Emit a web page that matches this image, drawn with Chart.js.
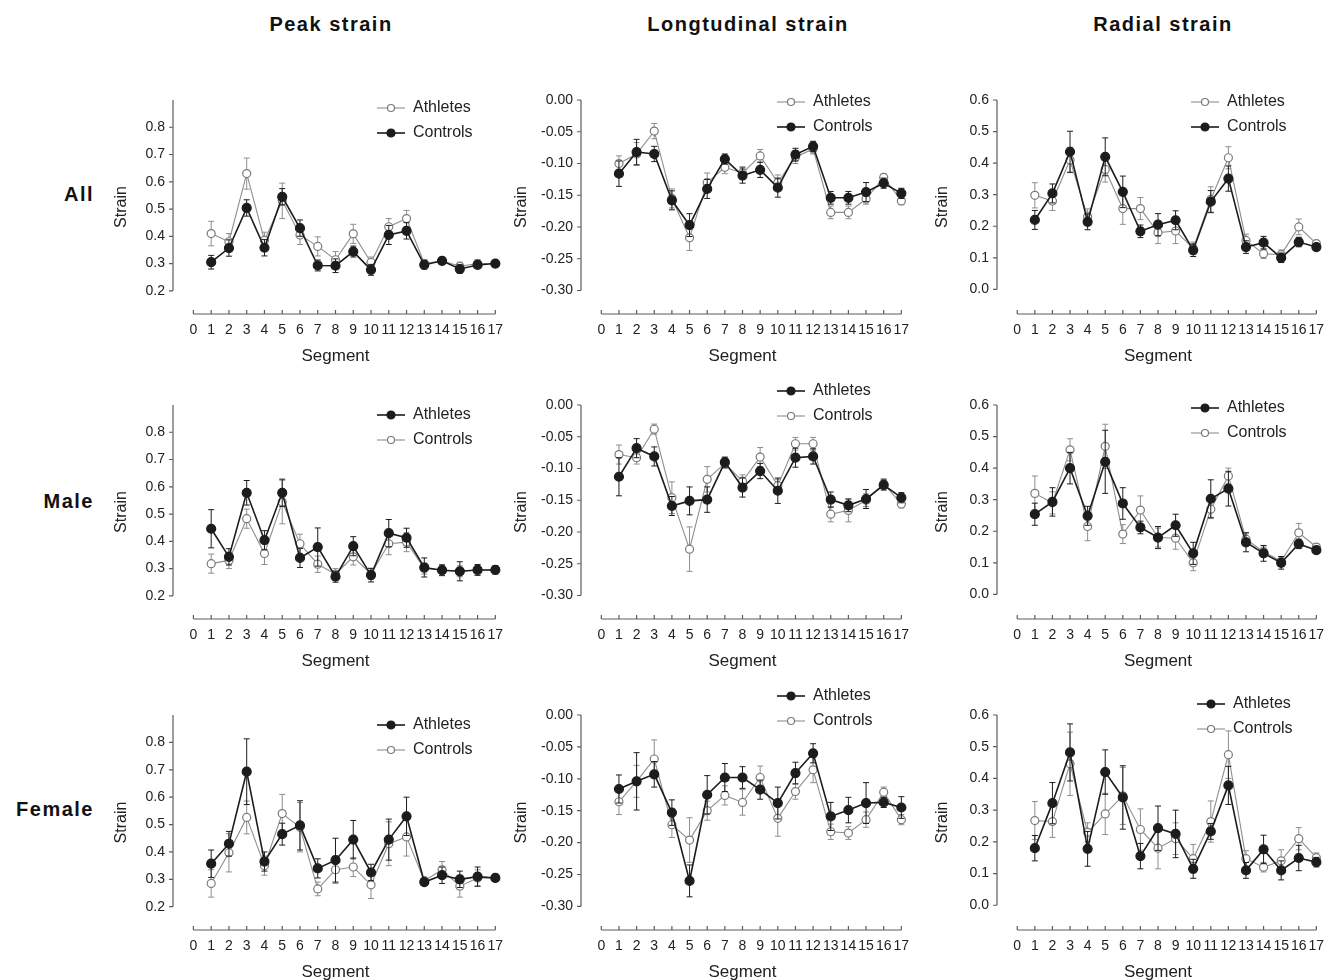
<!DOCTYPE html>
<html>
<head>
<meta charset="utf-8">
<script src="https://cdn.jsdelivr.net/npm/chart.js@4.4.0/dist/chart.umd.min.js"></script>
<style>
  body { margin: 0; background: #fff; width: 1325px; height: 980px; overflow: hidden; position: relative;
         font-family: "Liberation Sans", Arial, sans-serif; }
  .coltitle { position: absolute; top: 13px; font-weight: bold; font-size: 20px; letter-spacing: 1.5px;
              color: #111; transform: translateX(-50%); white-space: nowrap; }
  .rowlabel { position: absolute; left: 0; width: 94px; text-align: right; font-weight: bold; font-size: 20px;
              letter-spacing: 1.5px; color: #111; transform: translateY(-50%); }
  canvas.panel { position: absolute; }
</style>
</head>
<body>
<div class="coltitle" style="left:331px">Peak strain</div>
<div class="coltitle" style="left:748px">Longtudinal strain</div>
<div class="coltitle" style="left:1163px">Radial strain</div>
<div class="rowlabel" style="top:194px">All</div>
<div class="rowlabel" style="top:501px">Male</div>
<div class="rowlabel" style="top:809px">Female</div>
<script>
// Segment strain, athletes vs controls

const segments = [1, 2, 3, 4, 5, 6, 7, 8, 9, 10, 11, 12, 13, 14, 15, 16, 17];
const segmentTicks = [0, 1, 2, 3, 4, 5, 6, 7, 8, 9, 10, 11, 12, 13, 14, 15, 16, 17];
const peakTicks = [0.2, 0.3, 0.4, 0.5, 0.6, 0.7, 0.8];
const longTicks = [0, -0.05, -0.1, -0.15, -0.2, -0.25, -0.3];
const radialTicks = [0, 0.1, 0.2, 0.3, 0.4, 0.5, 0.6];

// All
const peakAllA = [0.41, 0.38, 0.63, 0.385, 0.53, 0.405, 0.363, 0.314, 0.409, 0.304, 0.435, 0.465, 0.30, 0.31, 0.29, 0.30, 0.30];
const peakAllAErr = [0.045, 0.03, 0.057, 0.03, 0.065, 0.035, 0.035, 0.03, 0.035, 0.02, 0.03, 0.03, 0.015, 0.012, 0.015, 0.015, 0.01];
const peakAllC = [0.305, 0.357, 0.504, 0.358, 0.545, 0.43, 0.293, 0.292, 0.344, 0.277, 0.405, 0.42, 0.295, 0.31, 0.28, 0.295, 0.30];
const peakAllCErr = [0.025, 0.03, 0.03, 0.03, 0.03, 0.03, 0.02, 0.025, 0.02, 0.02, 0.035, 0.03, 0.015, 0.012, 0.015, 0.012, 0.01];

const longAllA = [-0.10, -0.085, -0.049, -0.155, -0.217, -0.13, -0.106, -0.115, -0.088, -0.13, -0.09, -0.077, -0.177, -0.177, -0.156, -0.122, -0.159];
const longAllAErr = [0.012, 0.018, 0.012, 0.015, 0.02, 0.015, 0.01, 0.01, 0.01, 0.012, 0.01, 0.008, 0.01, 0.01, 0.008, 0.006, 0.006];
const longAllC = [-0.116, -0.082, -0.085, -0.158, -0.197, -0.14, -0.093, -0.119, -0.11, -0.138, -0.086, -0.073, -0.154, -0.154, -0.145, -0.131, -0.147];
const longAllCErr = [0.02, 0.02, 0.012, 0.015, 0.018, 0.015, 0.008, 0.012, 0.012, 0.015, 0.01, 0.008, 0.01, 0.01, 0.015, 0.008, 0.008];

const radAllA = [0.298, 0.28, 0.41, 0.23, 0.38, 0.256, 0.256, 0.18, 0.185, 0.13, 0.285, 0.417, 0.155, 0.113, 0.11, 0.198, 0.145];
const radAllAErr = [0.04, 0.03, 0.04, 0.025, 0.04, 0.05, 0.035, 0.035, 0.04, 0.02, 0.04, 0.035, 0.02, 0.015, 0.015, 0.025, 0.01];
const radAllC = [0.22, 0.304, 0.436, 0.214, 0.42, 0.309, 0.184, 0.205, 0.219, 0.124, 0.278, 0.351, 0.134, 0.148, 0.10, 0.15, 0.134];
const radAllCErr = [0.03, 0.03, 0.065, 0.025, 0.06, 0.05, 0.02, 0.035, 0.03, 0.02, 0.035, 0.04, 0.02, 0.02, 0.015, 0.015, 0.01];

// Male
const peakMaleA = [0.446, 0.343, 0.578, 0.404, 0.578, 0.339, 0.379, 0.27, 0.382, 0.276, 0.43, 0.413, 0.304, 0.294, 0.29, 0.295, 0.295];
const peakMaleAErr = [0.07, 0.03, 0.045, 0.035, 0.05, 0.035, 0.07, 0.02, 0.035, 0.025, 0.05, 0.035, 0.035, 0.02, 0.035, 0.02, 0.015];
const peakMaleC = [0.318, 0.33, 0.483, 0.355, 0.544, 0.391, 0.316, 0.28, 0.343, 0.28, 0.391, 0.397, 0.30, 0.295, 0.29, 0.295, 0.295];
const peakMaleCErr = [0.035, 0.03, 0.035, 0.04, 0.08, 0.035, 0.03, 0.02, 0.03, 0.02, 0.04, 0.035, 0.02, 0.015, 0.02, 0.015, 0.01];

const longMaleA = [-0.113, -0.068, -0.081, -0.159, -0.151, -0.149, -0.09, -0.13, -0.104, -0.135, -0.083, -0.081, -0.149, -0.158, -0.148, -0.126, -0.146];
const longMaleAErr = [0.03, 0.015, 0.015, 0.015, 0.022, 0.02, 0.008, 0.015, 0.012, 0.02, 0.015, 0.012, 0.012, 0.01, 0.015, 0.008, 0.008];
const longMaleC = [-0.078, -0.083, -0.038, -0.146, -0.227, -0.117, -0.092, -0.12, -0.082, -0.127, -0.061, -0.061, -0.172, -0.166, -0.15, -0.124, -0.156];
const longMaleCErr = [0.015, 0.01, 0.008, 0.025, 0.035, 0.02, 0.008, 0.01, 0.015, 0.01, 0.01, 0.01, 0.012, 0.018, 0.01, 0.008, 0.006];

const radMaleA = [0.254, 0.293, 0.40, 0.249, 0.42, 0.288, 0.212, 0.18, 0.219, 0.13, 0.303, 0.335, 0.165, 0.13, 0.10, 0.16, 0.14];
const radMaleAErr = [0.035, 0.045, 0.05, 0.03, 0.1, 0.05, 0.02, 0.035, 0.035, 0.035, 0.06, 0.055, 0.03, 0.025, 0.02, 0.015, 0.01];
const radMaleC = [0.32, 0.29, 0.458, 0.215, 0.469, 0.191, 0.267, 0.18, 0.178, 0.10, 0.27, 0.375, 0.175, 0.135, 0.105, 0.195, 0.15];
const radMaleCErr = [0.055, 0.035, 0.035, 0.045, 0.07, 0.03, 0.045, 0.03, 0.035, 0.025, 0.03, 0.025, 0.02, 0.015, 0.015, 0.03, 0.01];

// Female
const peakFemA = [0.357, 0.43, 0.693, 0.365, 0.465, 0.497, 0.34, 0.37, 0.445, 0.325, 0.445, 0.53, 0.29, 0.315, 0.30, 0.31, 0.305];
const peakFemAErr = [0.05, 0.045, 0.12, 0.035, 0.04, 0.09, 0.035, 0.08, 0.07, 0.03, 0.075, 0.07, 0.01, 0.03, 0.03, 0.035, 0.01];
const peakFemC = [0.285, 0.397, 0.526, 0.35, 0.54, 0.49, 0.265, 0.335, 0.345, 0.28, 0.43, 0.455, 0.295, 0.335, 0.275, 0.305, 0.305];
const peakFemCErr = [0.05, 0.07, 0.06, 0.035, 0.07, 0.09, 0.025, 0.05, 0.035, 0.05, 0.08, 0.07, 0.01, 0.03, 0.04, 0.03, 0.01];

const longFemA = [-0.116, -0.104, -0.093, -0.153, -0.26, -0.125, -0.098, -0.098, -0.117, -0.138, -0.091, -0.06, -0.159, -0.149, -0.138, -0.137, -0.145];
const longFemAErr = [0.022, 0.045, 0.02, 0.02, 0.025, 0.03, 0.022, 0.017, 0.015, 0.025, 0.017, 0.015, 0.022, 0.02, 0.032, 0.008, 0.017];
const longFemC = [-0.136, -0.104, -0.069, -0.172, -0.196, -0.15, -0.126, -0.137, -0.098, -0.162, -0.12, -0.086, -0.183, -0.185, -0.164, -0.121, -0.164];
const longFemCErr = [0.02, 0.025, 0.03, 0.02, 0.035, 0.015, 0.015, 0.02, 0.018, 0.028, 0.012, 0.02, 0.012, 0.01, 0.012, 0.008, 0.008];

const radFemA = [0.18, 0.322, 0.482, 0.178, 0.42, 0.34, 0.155, 0.243, 0.225, 0.115, 0.233, 0.378, 0.11, 0.176, 0.11, 0.149, 0.136];
const radFemAErr = [0.04, 0.065, 0.09, 0.055, 0.07, 0.1, 0.04, 0.07, 0.075, 0.03, 0.025, 0.06, 0.025, 0.045, 0.03, 0.04, 0.015];
const radFemC = [0.267, 0.264, 0.446, 0.23, 0.288, 0.345, 0.239, 0.18, 0.21, 0.147, 0.264, 0.475, 0.147, 0.12, 0.14, 0.21, 0.15];
const radFemCErr = [0.06, 0.05, 0.1, 0.03, 0.065, 0.09, 0.065, 0.065, 0.05, 0.045, 0.065, 0.075, 0.025, 0.015, 0.035, 0.035, 0.015];

const FONT = "'Liberation Sans', Arial, sans-serif";
const TEXT = "#222";
const AXIS = "#5c5c5c";

const filledStyle = { line: "#1c1c1c", width: 1.6, radius: 4.5, fill: "#1c1c1c", point: "#1c1c1c" };
const openStyle = { line: "#8e8e8e", width: 1.1, radius: 4, fill: "#ffffff", point: "#7a7a7a" };

// plot area of each column / row on the page
const columns = [
  { left: 173, right: 498, min: 0.115, max: 0.9, ticks: peakTicks, decimals: 1, titlePad: 19 },
  { left: 581, right: 904, min: -0.337, max: 0, ticks: longTicks, decimals: 2, titlePad: 11 },
  { left: 997, right: 1319, min: -0.078, max: 0.6, ticks: radialTicks, decimals: 1, titlePad: 16 },
];
const rows = [
  { top: 100, bottom: 314 },
  { top: 405, bottom: 619 },
  { top: 715, bottom: 930 },
];

const panels = [
  { row: 0, col: 0, a: peakAllA, aErr: peakAllAErr, c: peakAllC, cErr: peakAllCErr, filled: "c", legend: [413, 108] },
  { row: 0, col: 1, a: longAllA, aErr: longAllAErr, c: longAllC, cErr: longAllCErr, filled: "c", legend: [813, 102] },
  { row: 0, col: 2, a: radAllA, aErr: radAllAErr, c: radAllC, cErr: radAllCErr, filled: "c", legend: [1227, 102] },
  { row: 1, col: 0, a: peakMaleA, aErr: peakMaleAErr, c: peakMaleC, cErr: peakMaleCErr, filled: "a", legend: [413, 415] },
  { row: 1, col: 1, a: longMaleA, aErr: longMaleAErr, c: longMaleC, cErr: longMaleCErr, filled: "a", legend: [813, 391] },
  { row: 1, col: 2, a: radMaleA, aErr: radMaleAErr, c: radMaleC, cErr: radMaleCErr, filled: "a", legend: [1227, 408] },
  { row: 2, col: 0, a: peakFemA, aErr: peakFemAErr, c: peakFemC, cErr: peakFemCErr, filled: "a", legend: [413, 725] },
  { row: 2, col: 1, a: longFemA, aErr: longFemAErr, c: longFemC, cErr: longFemCErr, filled: "a", legend: [813, 696] },
  { row: 2, col: 2, a: radFemA, aErr: radFemAErr, c: radFemC, cErr: radFemCErr, filled: "a", legend: [1233, 704] },
];

const PAD_LEFT = 80, PAD_TOP = 40, PAD_RIGHT = 15, X_AXIS_H = 53;

function legendIcon(st) {
  const c = document.createElement("canvas");
  c.width = 28;
  c.height = 12;
  const g = c.getContext("2d");
  g.strokeStyle = st.line;
  g.lineWidth = st.width;
  g.beginPath();
  g.moveTo(0, 6);
  g.lineTo(28, 6);
  g.stroke();
  g.beginPath();
  g.arc(14, 6, st.radius - 0.5, 0, Math.PI * 2);
  g.fillStyle = st.fill;
  g.fill();
  g.strokeStyle = st.point;
  g.lineWidth = 1.2;
  g.stroke();
  return c;
}

function series(label, values, errs, filled) {
  const st = filled ? filledStyle : openStyle;
  return {
    label: label,
    data: values.map((v, i) => ({ x: segments[i], y: v })),
    errors: errs,
    order: filled ? 0 : 1,
    clip: false,
    borderColor: st.line,
    borderWidth: st.width,
    pointRadius: st.radius,
    pointBackgroundColor: st.fill,
    pointBorderColor: st.point,
    pointBorderWidth: 1.2,
    tension: 0,
    icon: legendIcon(st),
  };
}

// error bars, drawn under each series
const errorBars = {
  id: "errorBars",
  beforeDatasetDraw(chart, args) {
    const ds = chart.data.datasets[args.index];
    if (!ds.errors) return;
    const { ctx, scales } = chart;
    ctx.save();
    ctx.strokeStyle = ds.borderColor;
    ctx.lineWidth = 1;
    ctx.beginPath();
    ds.data.forEach((p, i) => {
      const e = ds.errors[i];
      const px = scales.x.getPixelForValue(p.x);
      const hi = scales.y.getPixelForValue(p.y + e);
      const lo = scales.y.getPixelForValue(p.y - e);
      ctx.moveTo(px, hi); ctx.lineTo(px, lo);
      ctx.moveTo(px - 3, hi); ctx.lineTo(px + 3, hi);
      ctx.moveTo(px - 3, lo); ctx.lineTo(px + 3, lo);
    });
    ctx.stroke();
    ctx.restore();
  },
};

// prism style detached axes
const prismAxes = {
  id: "prismAxes",
  beforeDatasetsDraw(chart) {
    const { ctx, chartArea, scales: { x, y } } = chart;
    const yv = y.ticks.map((t) => t.value);
    const xv = x.ticks.map((t) => t.value);
    const ax = chartArea.left;
    const by = chartArea.bottom;
    ctx.save();
    ctx.strokeStyle = AXIS;
    ctx.lineWidth = 1.2;
    ctx.beginPath();
    ctx.moveTo(ax, y.getPixelForValue(y.max));
    ctx.lineTo(ax, y.getPixelForValue(Math.min(...yv)));
    yv.forEach((v) => {
      const py = y.getPixelForValue(v);
      ctx.moveTo(ax - 4, py);
      ctx.lineTo(ax, py);
    });
    ctx.moveTo(x.getPixelForValue(Math.min(...xv)), by);
    ctx.lineTo(x.getPixelForValue(Math.max(...xv)), by);
    xv.forEach((v) => {
      const px = x.getPixelForValue(v);
      ctx.moveTo(px, by);
      ctx.lineTo(px, by - 4);
    });
    ctx.stroke();
    ctx.restore();
  },
};

// move the legend to its spot in the top right corner
const legendPlacer = {
  id: "legendPlacer",
  afterLayout(chart, args, opts) {
    const lg = chart.legend;
    if (!lg) return;
    lg.left = opts.x;
    lg.top = opts.y;
    lg.right = lg.left + lg.width + 30;
    lg.bottom = lg.top + 70;
  },
};

panels.forEach((p) => {
  const col = columns[p.col];
  const row = rows[p.row];
  const cLeft = col.left - PAD_LEFT;
  const cTop = row.top - PAD_TOP;
  const canvas = document.createElement("canvas");
  canvas.className = "panel";
  canvas.width = col.right - col.left + PAD_LEFT + PAD_RIGHT;
  canvas.height = row.bottom - row.top + PAD_TOP + X_AXIS_H;
  canvas.style.left = cLeft + "px";
  canvas.style.top = cTop + "px";
  document.body.appendChild(canvas);

  const aFilled = p.filled === "a";
  new Chart(canvas.getContext("2d"), {
    type: "line",
    data: {
      datasets: [
        series("Athletes", p.a, p.aErr, aFilled),
        series("Controls", p.c, p.cErr, !aFilled),
      ],
    },
    plugins: [errorBars, prismAxes, legendPlacer],
    options: {
      responsive: false,
      animation: false,
      events: [],
      layout: { padding: { left: 0, top: PAD_TOP, right: PAD_RIGHT, bottom: 0 } },
      plugins: {
        tooltip: { enabled: false },
        legendPlacer: { x: p.legend[0] - 45 - cLeft, y: p.legend[1] - 17 - cTop },
        legend: {
          position: "chartArea",
          align: "start",
          labels: {
            color: TEXT,
            font: { size: 16, family: FONT },
            usePointStyle: true,
            pointStyleWidth: 28,
            padding: 9,
            generateLabels: (chart) =>
              chart.data.datasets.map((ds, i) => ({
                text: ds.label,
                pointStyle: ds.icon,
                fillStyle: ds.pointBackgroundColor,
                strokeStyle: ds.borderColor,
                lineWidth: 0,
                fontColor: TEXT,
                hidden: false,
                datasetIndex: i,
              })),
          },
        },
      },
      scales: {
        x: {
          type: "linear",
          min: -1.15,
          max: 17.15,
          grid: { display: false, drawTicks: false },
          border: { display: false },
          afterBuildTicks: (s) => { s.ticks = segmentTicks.map((v) => ({ value: v })); },
          afterFit: (s) => { s.height = X_AXIS_H; },
          ticks: { autoSkip: false, maxRotation: 0, padding: 8, color: TEXT, font: { size: 14, family: FONT } },
          title: { display: true, text: "Segment", color: TEXT, font: { size: 17, family: FONT }, padding: 0 },
        },
        y: {
          min: col.min,
          max: col.max,
          grid: { display: false, drawTicks: false },
          border: { display: false },
          afterBuildTicks: (s) => { s.ticks = col.ticks.map((v) => ({ value: v })); },
          afterFit: (s) => { s.width = PAD_LEFT; },
          ticks: {
            padding: 8,
            color: TEXT,
            font: { size: 14, family: FONT },
            callback: (v) => Number(v).toFixed(col.decimals),
          },
          title: { display: true, text: "Strain", color: TEXT, font: { size: 16, family: FONT }, padding: { top: col.titlePad } },
        },
      },
    },
  });
});
</script>
</body>
</html>
